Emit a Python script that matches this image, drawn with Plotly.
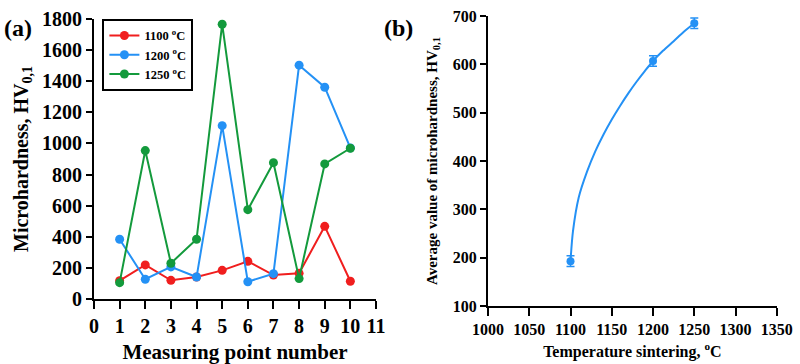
import plotly.graph_objects as go

# ---- data ----
points = [1, 2, 3, 4, 5, 6, 7, 8, 9, 10]
hv_1100 = [118, 219, 120, 141, 184, 242, 154, 165, 467, 114]
hv_1200 = [384, 127, 206, 141, 1114, 111, 163, 1503, 1361, 971]
hv_1250 = [105, 954, 230, 384, 1766, 574, 876, 131, 868, 969]

temps = [1100, 1200, 1250]
avg_hv = [193, 607, 685]
avg_err = [11, 11, 11]

# fitted trend curve
curve_x = [1100, 1103, 1110, 1120, 1130, 1140, 1150, 1160, 1170, 1180, 1190, 1200, 1212, 1225, 1237, 1250]
curve_y = [193, 255, 325, 378, 420, 455, 486, 514, 540, 564, 586, 607, 628, 648, 667, 685]

x1_ticks = list(range(0, 12))
y1_ticks = list(range(0, 2000, 200))
x2_ticks = list(range(1000, 1400, 50))
y2_ticks = list(range(100, 800, 100))

RED = "#f01e1e"
BLUE = "#2491f5"
GREEN = "#139a3c"
FONT = "Liberation Serif"


def bold(vals):
    return ["<b>%d</b>" % v for v in vals]


fig = go.Figure()
series = [("1100 <sup>o</sup>C", hv_1100, RED),
          ("1200 <sup>o</sup>C", hv_1200, BLUE),
          ("1250 <sup>o</sup>C", hv_1250, GREEN)]
for name, ys, c in series:
    fig.add_trace(go.Scatter(x=points, y=ys, name="<b>%s</b>" % name, mode="lines+markers",
                             line=dict(color=c, width=2),
                             marker=dict(color=c, size=9),
                             xaxis="x", yaxis="y"))

fig.add_trace(go.Scatter(x=curve_x, y=curve_y, mode="lines", line_shape="spline",
                         line=dict(color=BLUE, width=2, smoothing=0.8), showlegend=False,
                         xaxis="x2", yaxis="y2"))
fig.add_trace(go.Scatter(x=temps, y=avg_hv, mode="markers", showlegend=False,
                         marker=dict(color=BLUE, size=8),
                         error_y=dict(type="data", array=avg_err, color=BLUE,
                                      thickness=1.5, width=4),
                         xaxis="x2", yaxis="y2"))

axis_common = dict(showline=True, linecolor="black", linewidth=2, ticks="outside",
                   tickcolor="black", tickwidth=2, showgrid=False, zeroline=False,
                   mirror=False, automargin=False)

fig.update_layout(
    width=800, height=364,
    margin=dict(l=0, r=0, t=0, b=0),
    paper_bgcolor="white", plot_bgcolor="white",
    font=dict(family=FONT, color="black"),
    xaxis=dict(domain=[0.1175, 0.47], anchor="y", range=[0, 11],
               tickvals=x1_ticks, ticktext=bold(x1_ticks),
               ticklen=8, tickfont=dict(size=20, family=FONT),
               title=dict(text="<b>Measuring point number</b>",
                          font=dict(size=21, family=FONT), standoff=8),
               **axis_common),
    yaxis=dict(domain=[0.1786, 0.948], anchor="x", range=[0, 1800],
               tickvals=y1_ticks, ticktext=bold(y1_ticks),
               ticklen=6, tickfont=dict(size=20, family=FONT),
               title=dict(text="<b>Microhardness, HV<sub>0,1</sub></b>",
                          font=dict(size=20, family=FONT), standoff=8),
               **axis_common),
    xaxis2=dict(domain=[0.61, 0.971], anchor="y2", range=[1000, 1350],
                tickvals=x2_ticks, ticktext=bold(x2_ticks),
                ticklen=8, tickfont=dict(size=16, family=FONT),
                title=dict(text="<b>Temperature sintering, <sup>o</sup>C</b>",
                           font=dict(size=16, family=FONT), standoff=8),
                **axis_common),
    yaxis2=dict(domain=[0.159, 0.956], anchor="x2", range=[100, 700],
                tickvals=y2_ticks, ticktext=bold(y2_ticks),
                ticklen=6, tickfont=dict(size=16, family=FONT),
                title=dict(text="<b>Average value of microhardness, HV<sub>0,1</sub></b>",
                           font=dict(size=15, family=FONT), standoff=12),
                **axis_common),
    legend=dict(x=0.128, y=0.948, xanchor="left", yanchor="top",
                bordercolor="black", borderwidth=2, bgcolor="white",
                font=dict(size=12.5, family=FONT),
                tracegroupgap=0, itemwidth=30),
    showlegend=True,
    annotations=[
        dict(text="<b>(a)</b>", x=0.003, y=0.965, xref="paper", yref="paper",
             xanchor="left", yanchor="top", showarrow=False,
             font=dict(size=24, family=FONT)),
        dict(text="<b>(b)</b>", x=0.478, y=0.965, xref="paper", yref="paper",
             xanchor="left", yanchor="top", showarrow=False,
             font=dict(size=24, family=FONT)),
    ],
)

fig.write_html("out.html", config={"displayModeBar": False},
               post_script="document.body.style.margin='0';document.body.style.overflow='hidden';")
